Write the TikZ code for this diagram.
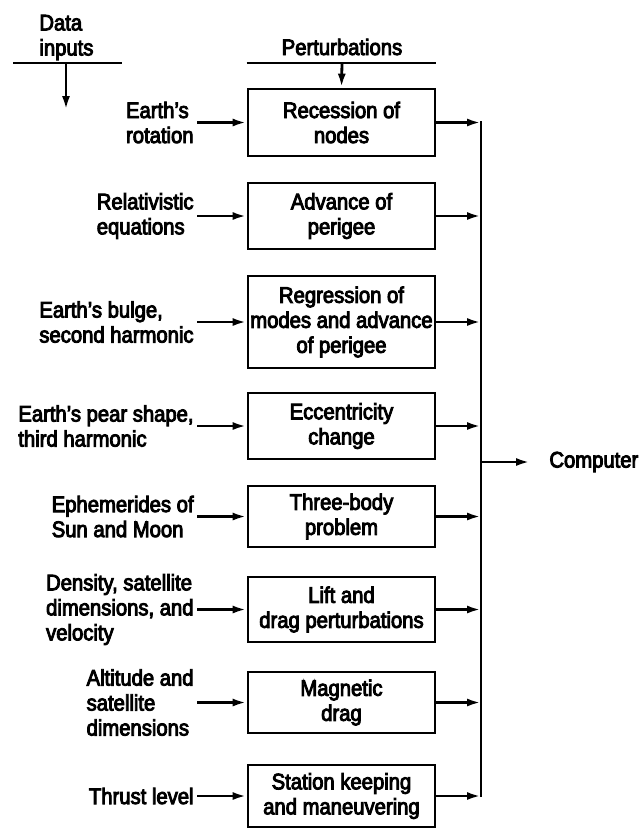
\documentclass[tikz,border=0pt]{standalone}
\usepackage{fontspec}
\setmainfont{Liberation Sans}[FakeStretch=0.9, FakeBold=4]
\usetikzlibrary{arrows.meta}

\begin{document}
\begin{tikzpicture}[x=1pt, y=-1pt,
				>={Latex[length=14pt,width=8pt]},   %Pfeilspitzen
				font=\fontsize{22.5}{25}\selectfont, line width=2.8pt,
				block/.style={draw, minimum width=187pt, align=center, inner sep=1pt},
				eingabe/.style={align=left, anchor=east, inner sep=2pt},
				fluss/.style={->}]
				\useasboundingbox (0,0) rectangle (642,828);
				% Kopfzeilen
				\node[align=left, anchor=west, inner sep=0pt] (daten) at (38,37.5) {Data\\inputs};
				\node[anchor=base, inner sep=0pt] (stoer) at (342,55) {Perturbations};
				\coordinate (dbar) at (66,63);
				\coordinate (dpfeil) at (66,110);
				\coordinate (pbar) at (342,63);
				\coordinate (busx) at (481,0);
				% Bloecke
				\foreach \n/\y/\h/\txt in {
						1/122.5/67/{Recession of\\nodes},
						2/216/66/{Advance of\\perigee},
						3/322/92/{Regression of\\modes and advance\\of perigee},
						4/426/66/{Eccentricity\\change},
						5/516.5/61/{Three-body\\problem},
						6/609.5/65/{Lift and\\drag perturbations},
						7/702.5/61/{Magnetic\\drag},
						8/796/62/{Station keeping\\and maneuvering}}
					\node[block, minimum height=\h pt] (box\n) at (341.5,\y) {\txt};
				% Eingangsgroessen
				\foreach \n/\y/\txt in {
						1/122.5/{Earth's\\rotation},
						2/216/{Relativistic\\equations},
						3/322/{Earth's bulge,\\second harmonic},
						4/426/{Earth's pear shape,\\third harmonic},
						5/516.5/{Ephemerides of\\Sun and Moon},
						6/609.5/{Density, satellite\\dimensions, and\\velocity},
						7/702.5/{Altitude and\\satellite\\dimensions},
						8/796/{Thrust level}}
					\node[eingabe] (in\n) at (197,\y) {\txt};
				\node[anchor=west, inner sep=0pt] (comp) at (548,462) {Computer};
				% Linien und Pfeile
				\draw (13,63) -- (122,63);
				\draw[fluss] (dbar) -- (dpfeil);
				\draw (box1.west |- pbar) -- (box1.east |- pbar);
				\draw[fluss] (pbar) -- (box1.north);
				\foreach \n in {1,...,8} {
					\draw[fluss] (in\n.east |- box\n) -- (box\n.west);
					\draw[fluss] (box\n.east) -- (box\n.east -| busx);
				}
				\draw[line cap=rect] (box1.east -| busx) -- (box8.east -| busx);
				\draw[fluss, shorten >=18pt] (comp.west -| busx) -- (comp.west);
\end{tikzpicture}
\end{document}
